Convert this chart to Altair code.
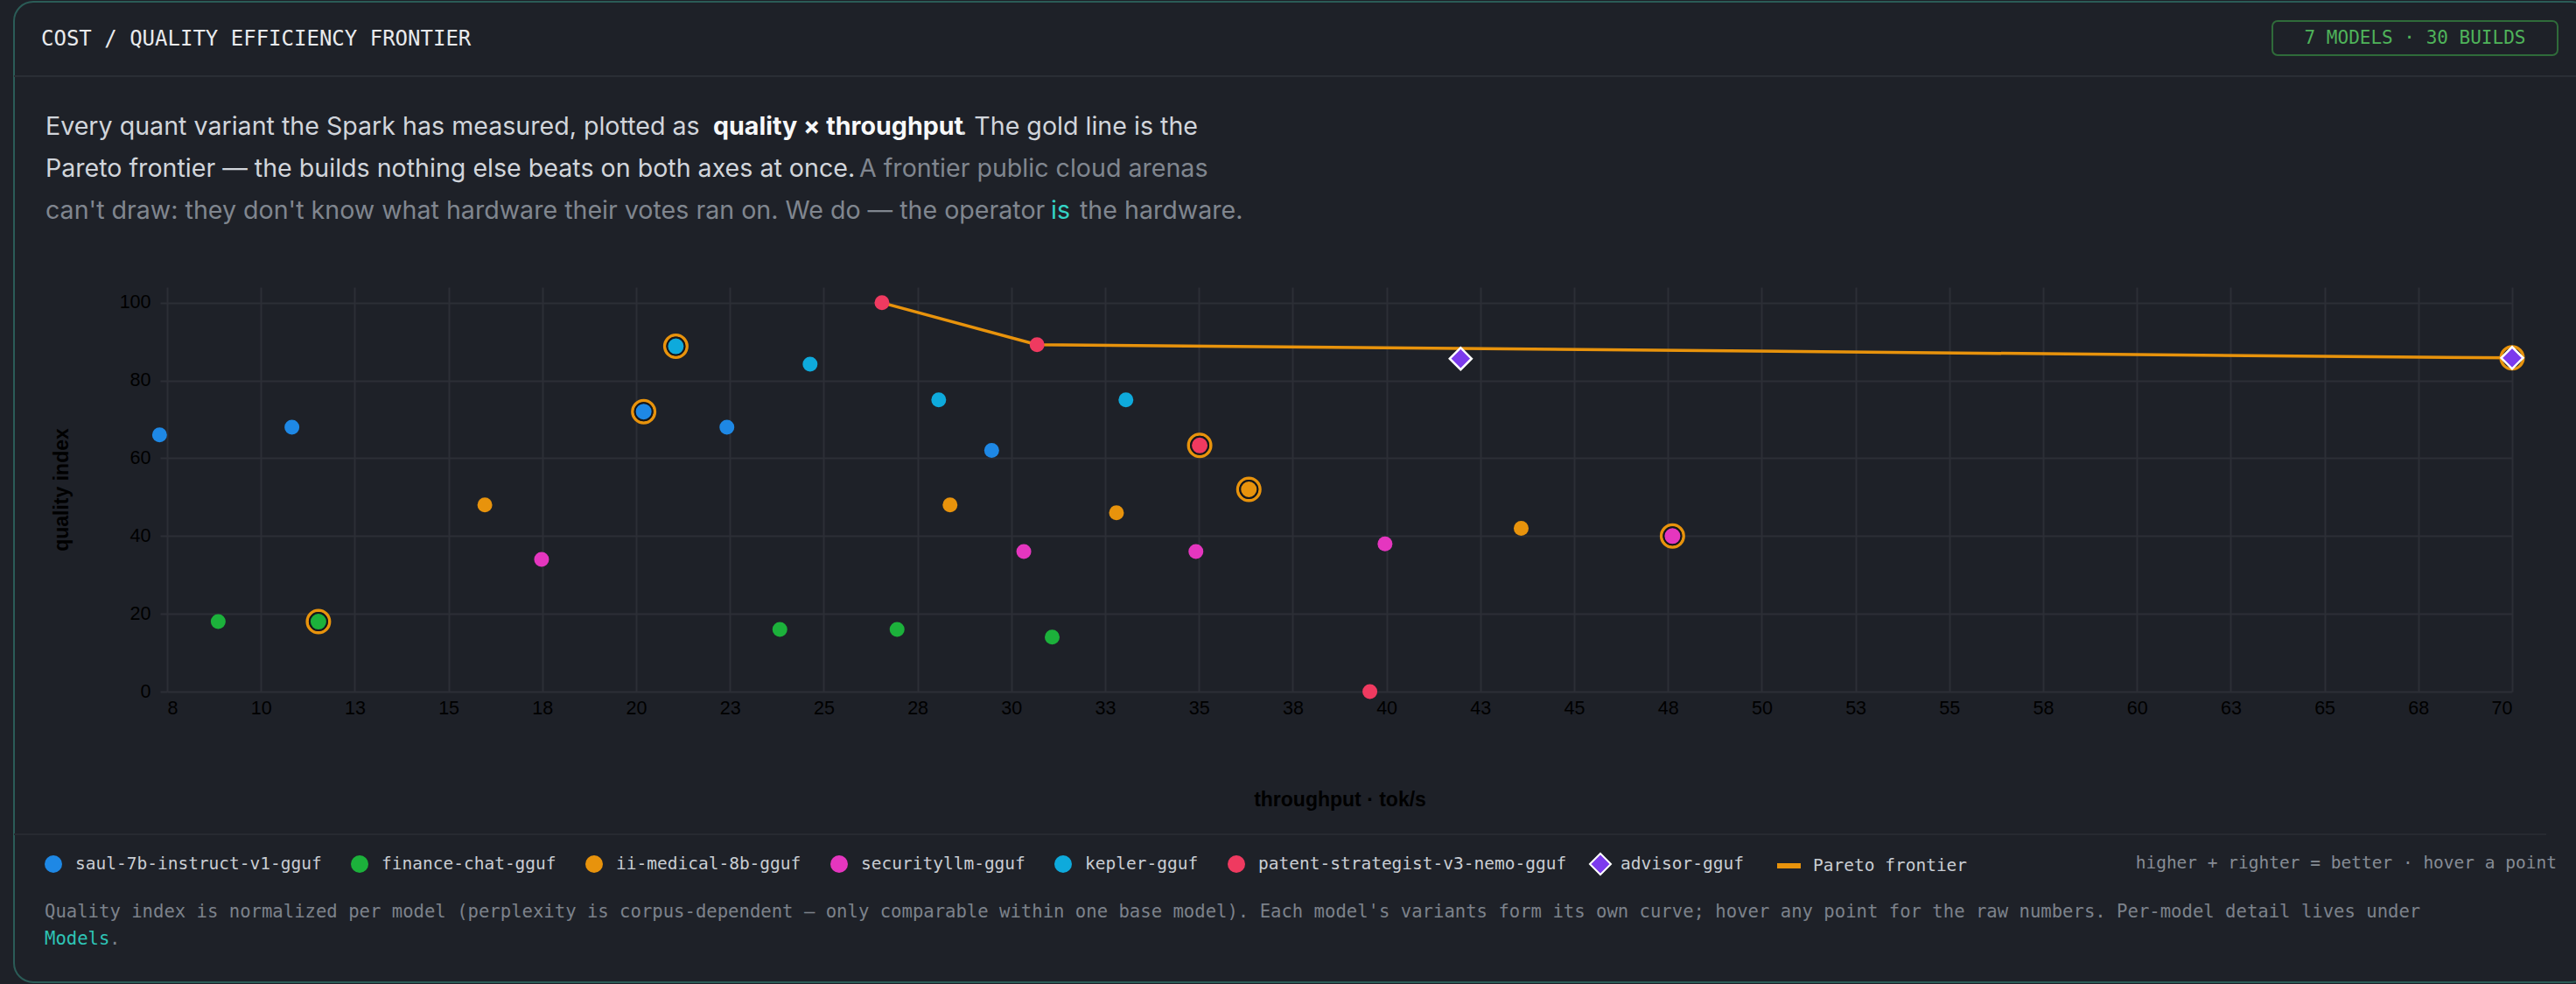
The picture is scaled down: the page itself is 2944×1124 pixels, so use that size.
import altair as alt
import numpy as np
import pandas as pd

# ---------------- data ----------------
MODELS = ["saul-7b-instruct-v1-gguf", "finance-chat-gguf", "ii-medical-8b-gguf",
          "securityllm-gguf", "kepler-gguf", "patent-strategist-v3-nemo-gguf", "advisor-gguf"]
MODEL_COLORS = ["#1e88e5", "#1cb13b", "#e8930c", "#e536bf", "#0eaadc", "#ef3a60", "#7c3aed"]

BUILD_MODEL = (["saul-7b-instruct-v1-gguf"] * 5 + ["finance-chat-gguf"] * 5 +
               ["ii-medical-8b-gguf"] * 5 + ["securityllm-gguf"] * 5 +
               ["kepler-gguf"] * 4 + ["patent-strategist-v3-nemo-gguf"] * 4 + ["advisor-gguf"] * 2)
THROUGHPUT = [7.8, 11.3, 20.6, 22.8, 29.8,
              9.35, 12.0, 24.2, 27.3, 31.4,
              16.4, 28.7, 33.1, 36.6, 43.8,
              17.9, 30.65, 35.2, 40.2, 47.8,
              21.45, 25.0, 28.4, 33.35,
              26.9, 31.0, 35.3, 39.8,
              42.2, 70.0]
QUALITY = [66, 68, 72, 68, 62,
           18, 18, 16, 16, 14,
           48, 48, 46, 52, 42,
           34, 36, 36, 38, 40,
           88.8, 84.2, 75, 75,
           100, 89.2, 63.3, 0,
           85.6, 85.8]
BEST = [0, 0, 1, 0, 0,
        0, 1, 0, 0, 0,
        0, 0, 0, 1, 0,
        0, 0, 0, 0, 1,
        1, 0, 0, 0,
        0, 0, 1, 0,
        0, 1]

X_TICKS = list(np.linspace(8, 70, 26))
Y_TICKS = [0, 20, 40, 60, 80, 100]

df = pd.DataFrame({"model": BUILD_MODEL, "throughput": THROUGHPUT,
                   "quality": QUALITY, "best": BEST})

# Pareto frontier derived from the builds
order = sorted(range(len(df)), key=lambda i: (-THROUGHPUT[i], -QUALITY[i]))
front, best_q = [], -1e9
for i in order:
    if QUALITY[i] > best_q:
        front.append(i)
        best_q = QUALITY[i]
front_df = df.iloc[front].sort_values("throughput").assign(series="Pareto frontier")

circ_df = df[df.model != "advisor-gguf"]
best_circ_df = df[(df.best == 1) & (df.model != "advisor-gguf")]
best_df = df[df.best == 1]
adv_df = df[df.model == "advisor-gguf"]

ONE = pd.DataFrame({"k": [0]})

# ---------------- style ----------------
BG = "#1e2128"
GRID = "#2c2f36"
MONO = "DejaVu Sans Mono"
SANS = "Inter"
AXF = "Liberation Sans"
ORANGE = "#e8930c"
LEG_FS = 19.5
DESC_FS = 28.6

OX, OY = 191, 328  # plot origin in page pixels

X_ENC = alt.X("throughput:Q",
              scale=alt.Scale(domain=[8, 70], nice=False, zero=False),
              axis=alt.Axis(values=X_TICKS, labelExpr="format(datum.value, '.0f')",
                            grid=True, gridColor=GRID, gridWidth=2, ticks=False, domain=False,
                            labelFont=AXF, labelFontSize=21.5, labelColor="#000000", labelPadding=8,
                            title="throughput · tok/s", titleFont=AXF, titleFontSize=23,
                            titleFontWeight="bold", titleColor="#000000", titlePadding=83))
Y_ENC = alt.Y("quality:Q",
              scale=alt.Scale(domain=[0, 104], nice=False, zero=True),
              axis=alt.Axis(values=Y_TICKS, grid=True, gridColor=GRID, gridWidth=2,
                            ticks=True, tickColor=GRID, tickWidth=2, tickSize=8, domain=False,
                            labelFont=AXF, labelFontSize=21.5, labelColor="#000000", labelPadding=11,
                            title="quality index", titleFont=AXF, titleFontSize=23,
                            titleFontWeight="bold", titleColor="#000000", titlePadding=54))


def txt(s, x, y, size, color, font=SANS, weight="normal", align="left", baseline="alphabetic"):
    return alt.Chart(ONE).mark_text(text=s, fontSize=size, color=color, font=font,
                                    fontWeight=weight, align=align, baseline=baseline).encode(
        x=alt.value(x - OX), y=alt.value(y - OY))


def hline(y, x1, x2, color, w=2):
    return alt.Chart(ONE).mark_rule(color=color, strokeWidth=w).encode(
        x=alt.value(x1 - OX), x2=alt.value(x2 - OX), y=alt.value(y - OY))


card = alt.Chart(ONE).mark_rect(fillOpacity=0, stroke="#2b5c57", strokeWidth=2, cornerRadius=22).encode(
    x=alt.value(16 - OX), x2=alt.value(2960 - OX), y=alt.value(2 - OY), y2=alt.value(1122 - OY))
badge = alt.Chart(ONE).mark_rect(fillOpacity=0, stroke="#2f6b3a", strokeWidth=2, cornerRadius=6).encode(
    x=alt.value(2597 - OX), x2=alt.value(2923 - OX), y=alt.value(24 - OY), y2=alt.value(63 - OY))

# ---------------- data layers ----------------
frontier = alt.Chart(front_df).mark_line(strokeWidth=3.5, opacity=1).encode(
    x=X_ENC, y=Y_ENC,
    color=alt.Color("series:N",
                    scale=alt.Scale(domain=["Pareto frontier"], range=[ORANGE]),
                    legend=alt.Legend(title=None, orient="none", legendX=2028 - OX, legendY=972.5 - OY,
                                      symbolType="stroke", symbolSize=729, symbolStrokeWidth=6,
                                      labelFont=MONO, labelFontSize=LEG_FS, labelColor="#c9cdd3",
                                      labelOffset=11, labelLimit=1000, padding=0)))

circles = alt.Chart(circ_df).mark_point(filled=True, shape="circle", size=289, opacity=1).encode(
    x=X_ENC, y=Y_ENC,
    color=alt.Color("model:N",
                    scale=alt.Scale(domain=MODELS[:6], range=MODEL_COLORS[:6]),
                    legend=alt.Legend(title=None, orient="none", legendX=50 - OX, legendY=976 - OY,
                                      direction="horizontal", columns=6, symbolType="circle",
                                      symbolSize=400, labelFont=MONO, labelFontSize=LEG_FS,
                                      labelColor="#c9cdd3", labelOffset=14, columnPadding=32,
                                      labelLimit=1000, padding=0)))

rings = alt.Chart(best_df).mark_point(filled=False, shape="circle", size=650, stroke=ORANGE,
                                      strokeWidth=3.5, opacity=1).encode(x=X_ENC, y=Y_ENC)

best_circles = alt.Chart(best_circ_df).mark_point(filled=True, shape="circle", size=400,
                                                  stroke="#15171b", strokeWidth=2, opacity=1).encode(
    x=X_ENC, y=Y_ENC,
    color=alt.Color("model:N", scale=alt.Scale(domain=MODELS[:6], range=MODEL_COLORS[:6]), legend=None))

diamonds = alt.Chart(adv_df).mark_point(filled=True, shape="diamond", size=625, stroke="#ffffff",
                                        strokeWidth=2.5, opacity=1).encode(
    x=X_ENC, y=Y_ENC,
    color=alt.Color("model:N",
                    scale=alt.Scale(domain=MODELS[6:], range=MODEL_COLORS[6:]),
                    legend=alt.Legend(title=None, orient="none", legendX=1816 - OX, legendY=974 - OY,
                                      symbolType="diamond", symbolSize=576, symbolStrokeColor="#ffffff",
                                      symbolStrokeWidth=2, labelFont=MONO, labelFontSize=LEG_FS,
                                      labelColor="#c9cdd3", labelOffset=10, labelLimit=1000, padding=0)))

# ---------------- text layers ----------------
texts = [
    txt("COST / QUALITY EFFICIENCY FRONTIER", 47, 45, 24, "#e8eaed", font=MONO, baseline="middle"),
    badge,
    txt("7 MODELS · 30 BUILDS", 2760, 44, 21, "#4fb35a", font=MONO, align="center", baseline="middle"),
    hline(87, 16, 2960, "#2a2e35"),
    txt("Every quant variant the Spark has measured, plotted as", 52, 154, DESC_FS, "#d1d5db"),
    txt("quality × throughput", 815, 154, DESC_FS, "#f7f8f9", weight="bold"),
    txt(". The gold line is the", 1097, 154, DESC_FS, "#d1d5db"),
    txt("Pareto frontier — the builds nothing else beats on both axes at once.", 52, 202, DESC_FS, "#d1d5db"),
    txt("A frontier public cloud arenas", 982, 202, DESC_FS, "#80868f"),
    txt("can't draw: they don't know what hardware their votes ran on. We do — the operator", 52, 249.5,
        DESC_FS, "#80868f"),
    txt("is", 1201, 249.5, DESC_FS, "#34d3c6"),
    txt("the hardware.", 1234, 249.5, DESC_FS, "#80868f"),
    hline(953, 16, 2910, "#272a31"),
    txt("higher + righter = better · hover a point", 2922, 986, LEG_FS, "#868c95", font=MONO,
        align="right", baseline="middle"),
    txt("Quality index is normalized per model (perplexity is corpus-dependent — only comparable within one "
        "base model). Each model's variants form its own curve; hover any point for the raw numbers. "
        "Per-model detail lives under", 51, 1042, 20.6, "#7c828b", font=MONO, baseline="middle"),
    txt("Models", 51, 1073, 20.6, "#2ec4b6", font=MONO, baseline="middle"),
    txt(".", 125, 1073, 20.6, "#7c828b", font=MONO, baseline="middle"),
]

chart = alt.layer(card, frontier, circles, rings, best_circles, diamonds, *texts).resolve_scale(
    color="independent").properties(
    width=2680, height=462,
    padding={"left": OX, "top": OY, "right": 2944 - 2871, "bottom": 1124 - 790},
    autosize=alt.AutoSizeParams(type="none"),
    background=BG,
).configure_view(stroke="transparent")

chart.save("out.html", embed_options={"renderer": "svg", "actions": False})
